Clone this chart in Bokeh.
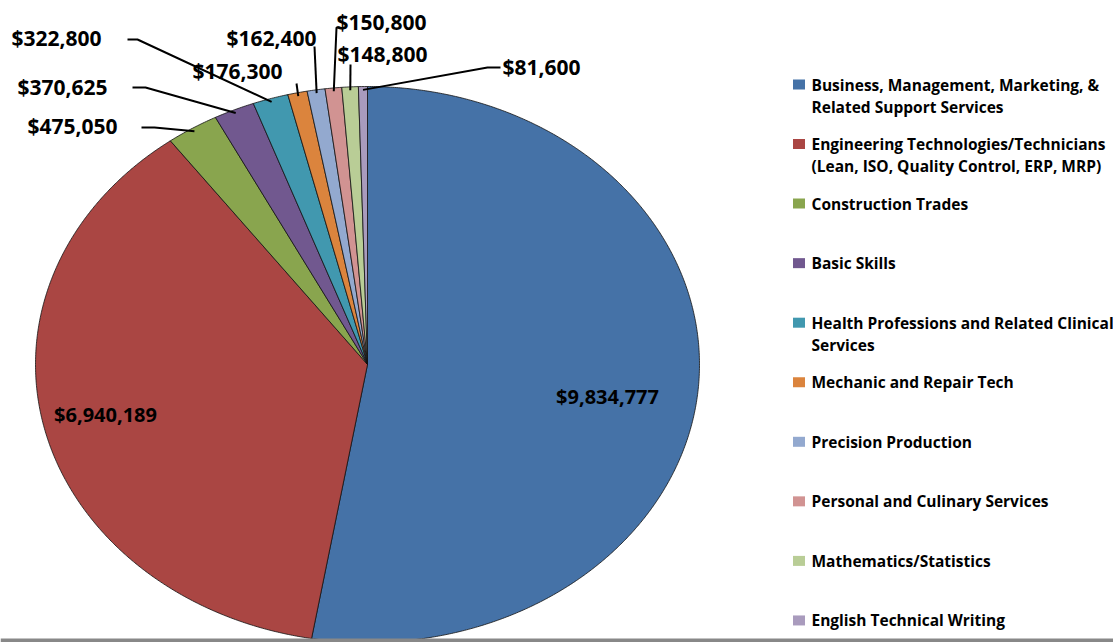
import numpy as np
from bokeh.plotting import figure
from bokeh.models import Range1d
from bokeh.embed import file_html
from bokeh.resources import INLINE
from bokeh.core.properties import value

# ---------------- data ----------------
categories = [
    "Business, Management, Marketing, &\nRelated Support Services",
    "Engineering Technologies/Technicians\n(Lean, ISO, Quality Control, ERP, MRP)",
    "Construction Trades",
    "Basic Skills",
    "Health Professions and Related Clinical\nServices",
    "Mechanic and Repair Tech",
    "Precision Production",
    "Personal and Culinary Services",
    "Mathematics/Statistics",
    "English Technical Writing",
]
amounts = [9834777, 6940189, 475050, 370625, 322800, 176300, 162400, 150800, 148800, 81600]
colors = ["#4572A7", "#AA4643", "#89A54E", "#71588F", "#4198AF",
          "#DB843D", "#93A9CF", "#D19392", "#B9CD96", "#A99BBD"]

# ---------------- layout ----------------
W, H = 1113, 642
CX, CY, RX, RY = 367, 364, 332, 278
FONT = value("Open Sans")

# inside labels (index -> position)
inside_pos = {0: (607, 396), 1: (105, 414)}
# outside labels: index -> (text x, text y, align, leader start points)
outside = {
    2: (117, 125, "right", [(141, 127), (154, 127)]),
    3: (107, 86, "right", [(132, 87), (145, 87)]),
    4: (101, 37, "right", [(127, 39), (137, 39)]),
    5: (282, 70, "right", [(296, 83)]),
    6: (316, 37, "right", [(314, 46)]),
    7: (336, 21, "left", [(340, 27), (336, 27)]),
    8: (337, 53, "left", [(350, 64)]),
    9: (502, 66, "left", [(500, 67), (487, 67)]),
}

p = figure(width=W, height=H, x_range=Range1d(0, W), y_range=Range1d(H, 0),
           output_backend="svg", toolbar_location=None, min_border=0,
           background_fill_color="white", border_fill_color="white")
p.axis.visible = False
p.grid.visible = False
p.outline_line_color = None

total = float(sum(amounts))
angles = np.cumsum([0.0] + [a / total * 360.0 for a in amounts])

def pt(deg, f=1.0):
    r = np.radians(deg)
    return CX + f * RX * np.sin(r), CY - f * RY * np.cos(r)

xs, ys = [], []
for i in range(len(amounts)):
    a = np.linspace(angles[i], angles[i + 1], max(4, int((angles[i + 1] - angles[i]) * 3)))
    px, py = pt(a)
    xs.append([CX] + list(px))
    ys.append([CY] + list(py))

p.patches(xs, ys, fill_color=colors, line_color="#111111", line_width=0.8)

labels = ["${:,}".format(a) for a in amounts]

# inside labels
for i, (x, y) in inside_pos.items():
    p.text([x], [y], text=[labels[i]], text_font=FONT, text_font_style="bold",
           text_font_size="20px", text_align="center", text_baseline="middle",
           text_color="#000000")

# outside labels with leader lines
for i, (x, y, al, pts) in outside.items():
    mid = (angles[i] + angles[i + 1]) / 2.0
    ex, ey = pt(mid, 0.988)
    lx = [q[0] for q in pts] + [ex]
    ly = [q[1] for q in pts] + [ey]
    p.line(lx, ly, line_color="#000000", line_width=2)
    p.text([x], [y], text=[labels[i]], text_font=FONT, text_font_style="bold",
           text_font_size="21px", text_align=al, text_baseline="middle",
           text_color="#000000")

# legend
for i, cat in enumerate(categories):
    ly = 84 + 59.55 * i
    p.rect([798.5], [ly], width=12, height=10, width_units="screen",
           height_units="screen", fill_color=colors[i], line_color=None)
    for k, line in enumerate(cat.split("\n")):
        p.text([811], [ly + 22 * k], text=[line], text_font=FONT,
               text_font_style="bold", text_font_size="15.5px",
               text_align="left", text_baseline="middle", text_color="#000000")

# bottom border bar
p.quad(left=[0], right=[W], top=[638], bottom=[H], fill_color="#888888", line_color=None)

open("out.html", "w").write(file_html(p, INLINE))
